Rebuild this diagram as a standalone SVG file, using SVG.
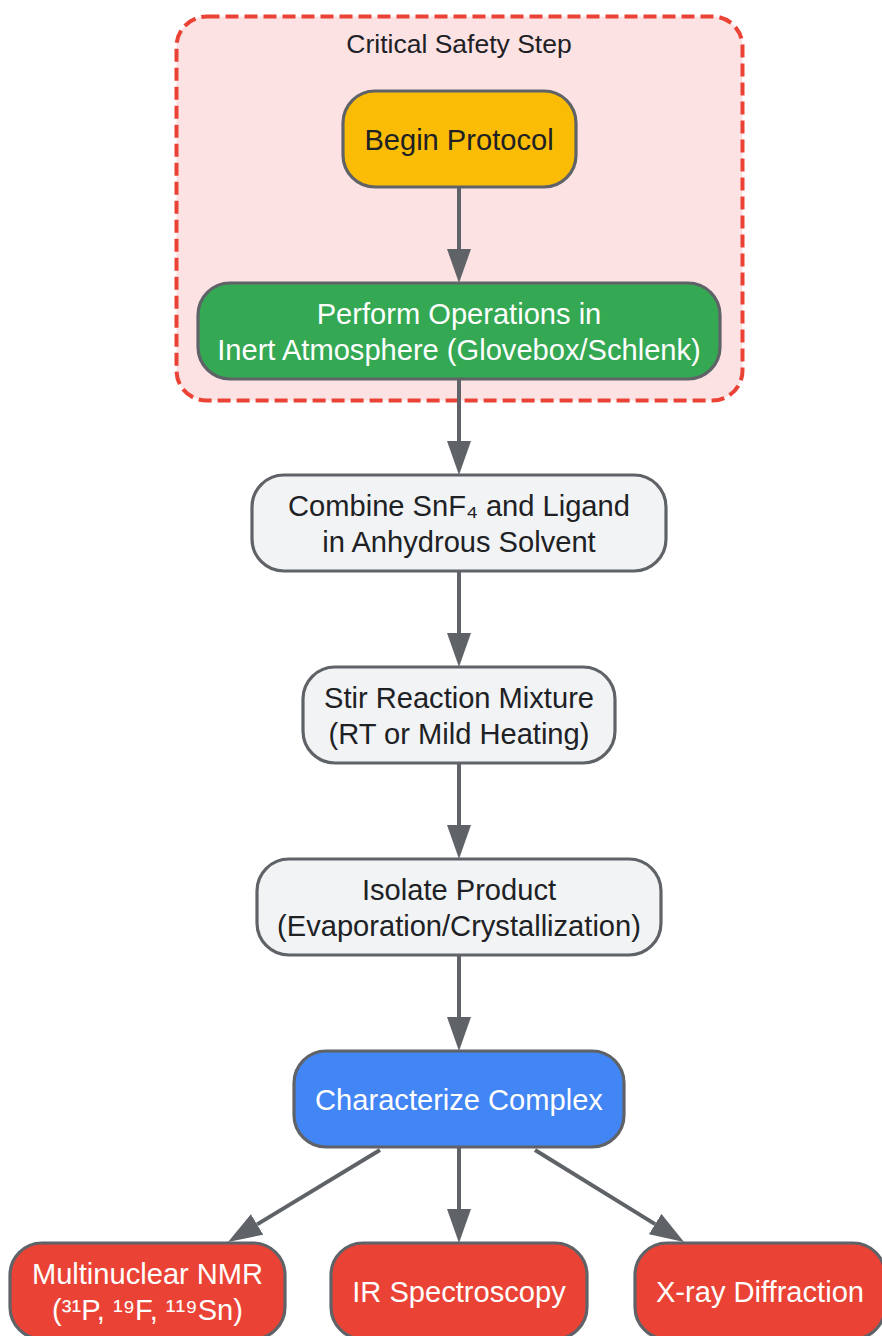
<svg xmlns="http://www.w3.org/2000/svg" width="882" height="1336" viewBox="0 0 882 1336">
<defs>
<style>
.n{stroke:#5F6368;stroke-width:3.2}
.t{font-family:"Liberation Sans",Arial,sans-serif;font-size:29.1px;text-anchor:middle}
.d{fill:#202124}
.w{fill:#FFFFFF}
.e{stroke:#5F6368;stroke-width:4;fill:none}
</style>
<marker id="a" markerWidth="34" markerHeight="24" refX="0" refY="12" orient="auto" markerUnits="userSpaceOnUse">
<path d="M0,0 L34,12 L0,24 Z" fill="#5F6368"/>
</marker>
</defs>
<rect width="882" height="1336" fill="#FFFFFF"/>
<g id="cluster_safety">
<rect x="176.5" y="16.5" width="566" height="384" rx="30" ry="30" fill="#FDE2E4" stroke="#EA4335" stroke-width="4" stroke-dasharray="13,6"/>
<text class="t d" x="459" y="53" style="font-size:26.5px">Critical Safety Step</text>
</g>
<g id="connectors">
<path class="e" d="M459,188 L459,249" marker-end="url(#a)"/>
<path class="e" d="M459,380 L459,441" marker-end="url(#a)"/>
<path class="e" d="M459,572 L459,633" marker-end="url(#a)"/>
<path class="e" d="M459,764 L459,825" marker-end="url(#a)"/>
<path class="e" d="M459,956 L459,1017" marker-end="url(#a)"/>
<path class="e" d="M459,1148 L459,1209" marker-end="url(#a)"/>
<path class="e" d="M380,1150 L257.1,1224.4" marker-end="url(#a)"/>
<path class="e" d="M535,1150 L655.1,1224.1" marker-end="url(#a)"/>
</g>
<g id="begin">
<rect class="n" x="343" y="91" width="233" height="96" rx="32" fill="#FBBC05"/>
<text class="t d" x="459" y="150">Begin Protocol</text>
</g>
<g id="inert">
<rect class="n" x="198" y="283" width="522" height="96" rx="32" fill="#34A853"/>
<text class="t w" x="459" y="324">Perform Operations in</text>
<text class="t w" x="459" y="360">Inert Atmosphere (Glovebox/Schlenk)</text>
</g>
<g id="combine">
<rect class="n" x="252" y="475" width="414" height="96" rx="32" fill="#F1F3F4"/>
<text class="t d" x="459" y="516">Combine SnF₄ and Ligand</text>
<text class="t d" x="459" y="552">in Anhydrous Solvent</text>
</g>
<g id="stir">
<rect class="n" x="303" y="667" width="312" height="96" rx="32" fill="#F1F3F4"/>
<text class="t d" x="459" y="708">Stir Reaction Mixture</text>
<text class="t d" x="459" y="744">(RT or Mild Heating)</text>
</g>
<g id="isolate">
<rect class="n" x="257" y="859" width="404" height="96" rx="32" fill="#F1F3F4"/>
<text class="t d" x="459" y="900">Isolate Product</text>
<text class="t d" x="459" y="936">(Evaporation/Crystallization)</text>
</g>
<g id="characterize">
<rect class="n" x="294" y="1051" width="330" height="96" rx="32" fill="#4285F4"/>
<text class="t w" x="459" y="1110">Characterize Complex</text>
</g>
<g id="nmr">
<rect class="n" x="10" y="1243" width="275" height="96" rx="32" fill="#EA4335"/>
<text class="t w" x="147.5" y="1284">Multinuclear NMR</text>
<text class="t w" x="147.5" y="1320">(³¹P, ¹⁹F, ¹¹⁹Sn)</text>
</g>
<g id="ir">
<rect class="n" x="331" y="1243" width="256" height="96" rx="32" fill="#EA4335"/>
<text class="t w" x="459" y="1302">IR Spectroscopy</text>
</g>
<g id="xray">
<rect class="n" x="635" y="1243" width="250" height="96" rx="32" fill="#EA4335"/>
<text class="t w" x="760" y="1302">X-ray Diffraction</text>
</g>
</svg>
